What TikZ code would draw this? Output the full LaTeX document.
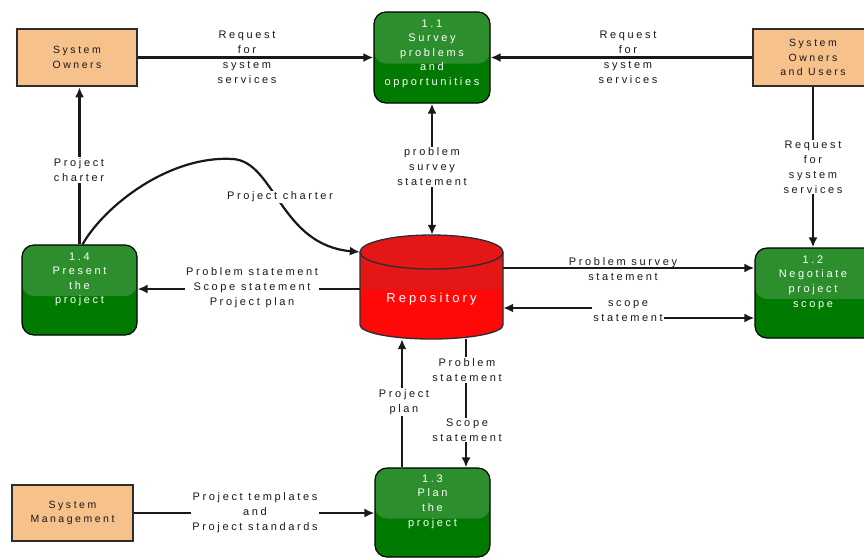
\documentclass[tikz,border=0pt]{standalone}
\usepackage{fontspec}
\setmainfont{Liberation Sans}[LetterSpace=24]
\usetikzlibrary{arrows.meta,calc}
\definecolor{entfill}{RGB}{247,193,140}
\definecolor{entdraw}{RGB}{45,45,45}
\definecolor{gdark}{RGB}{0,122,0}
\definecolor{glight}{RGB}{45,142,45}
\definecolor{repred}{RGB}{255,8,8}
\definecolor{reptop}{RGB}{228,22,22}
\definecolor{ink}{RGB}{25,25,25}
\tikzset{
  entity/.style={draw=entdraw, line width=2.6pt, fill=entfill, inner sep=0pt},
  proc/.style={draw=black, line width=1.2pt, rounded corners=12pt, fill=gdark,
    path picture={\fill[glight] (path picture bounding box.north west) rectangle ([yshift=-6pt]path picture bounding box.east);}},
  ptext/.style={text=white, align=center, font=\fontsize{11}{14.6}\selectfont, inner sep=1pt},
  etext/.style={text=ink, align=center, font=\fontsize{10.5}{14.5}\selectfont},
  lbl/.style={text=ink, align=center, font=\fontsize{11}{15}\selectfont, inner sep=1pt},
  wlbl/.style={lbl, fill=white},
  flow/.style={draw=ink, line width=2.2pt, -{Latex[length=10pt,width=9pt]}},
  flow2/.style={draw=ink, line width=2.2pt, {Latex[length=10pt,width=9pt]}-{Latex[length=10pt,width=9pt]}}
}
\begin{document}
\begin{tikzpicture}[x=1pt,y=-1pt]
\useasboundingbox (0,0) rectangle (864,558);
\fill[white] (0,0) rectangle (864,558);

% external entities
\node[entity, minimum width=120pt, minimum height=57pt] (so) at (77,57.5) {};
\node[etext] (soT) at (so) {System\\Owners};
\node[entity, minimum width=120pt, minimum height=57pt] (sou) at (813,57.5) {};
\node[etext] (souT) at (sou) {System\\Owners\\and Users};
\node[entity, minimum width=121pt, minimum height=56pt] (sm) at (72.5,513) {};
\node[etext] (smT) at (sm) {System\\Management};

% processes
\node[proc, minimum width=116pt, minimum height=91pt] (p11) at (432,57.5) {};
\node[ptext, anchor=north] (p11T) at ([yshift=-7pt]p11.north) {1.1\\Survey\\problems\\and\\opportunities};
\node[proc, minimum width=120pt, minimum height=90pt] (p12) at (815,293) {};
\node[ptext, anchor=north] (p12T) at ([yshift=-7pt,xshift=-2pt]p12.north) {1.2\\Negotiate\\project\\scope};
\node[proc, minimum width=115pt, minimum height=90pt] (p14) at (79.5,290) {};
\node[ptext, anchor=north] (p14T) at ([yshift=-7pt]p14.north) {1.4\\Present\\the\\project};
\node[proc, minimum width=115pt, minimum height=89pt] (p13) at (432.5,512.5) {};
\node[ptext, anchor=north] (p13T) at ([yshift=-6pt]p13.north) {1.3\\Plan\\the\\project};

% repository (cylinder)
\node[minimum width=143pt, minimum height=104pt, inner sep=0pt] (repo) at (431.5,287) {};
\fill[repred] (360,252) -- (360,325) arc[start angle=180, end angle=0, x radius=71.5, y radius=14] -- (503,252) -- cycle;
\fill[reptop] (360,252) -- (360,290) -- (503,290) -- (503,252) -- cycle;
\fill[reptop] (431.5,252) ellipse[x radius=71.5, y radius=17];
\draw[entdraw, line width=1.3pt] (360,252) -- (360,325) arc[start angle=180, end angle=0, x radius=71.5, y radius=14] -- (503,252);
\draw[entdraw, line width=1.3pt] (431.5,252) ellipse[x radius=71.5, y radius=17];
\node[text=white, font=\fontsize{13}{15}\selectfont] (repoT) at (431.5,299) {Repository};

% connectors
\draw[flow] (so) -- (p11);
\node[lbl] (l1) at (247,57) {Request\\for\\system\\services};
\draw[flow] (sou) -- (p11);
\node[lbl] (l2) at (628,57) {Request\\for\\system\\services};

\draw[flow] (sou.south) -- (sou.south |- p12.north);
\node[wlbl] (l3) at (813,167) {Request\\for\\system\\services};

\draw[flow2] (p11.south) -- (p11.south |- repo.north);
\node[wlbl] (l4) at (432,167) {problem\\survey\\statement};

\coordinate (r268) at ([yshift=19pt]repo.east);
\draw[flow] (r268) -- (r268 -| p12.west);
\node[lbl] (l8) at (623,269) {Problem survey\\statement};

\node[lbl] (l9) at (628,311.5) {scope\\statement};
\coordinate (r308) at ([yshift=-21pt]repo.east);
\coordinate (r318) at ([yshift=-31pt]repo.east);
\draw[flow] (r308 -| l9.west) -- (r308);
\draw[flow] (r318 -| l9.east) -- (r318 -| p12.west);

\draw[flow] ([yshift=-2pt]repo.west) -- ([yshift=-2pt]repo.west -| p14.east);
\node[wlbl] (l7) at (252,288) {Problem statement\\Scope statement\\Project plan};

\draw[flow] (p14.north) -- (p14.north |- so.south);
\node[wlbl] (l5) at (79,170) {Project\\charter};

\coordinate (rtl) at ([yshift=35pt]repo.west);
\draw[flow] ([xshift=3pt]p14.north) .. controls (105,205) and (170,155) .. (233,159)
  .. controls (275,162) and (280,245) .. (rtl);
\node[wlbl] (l6) at (280,197) {Project charter};

\draw[flow] ([xshift=34.5pt]repo.south) -- ([xshift=34.5pt]repo.south |- p13.north);
\node[wlbl] (l10) at (467,370) {Problem\\statement};
\node[wlbl] (l11) at (467,430) {Scope\\statement};

\draw[flow] ([xshift=-29.5pt]repo.south |- p13.north) -- ([xshift=-29.5pt]repo.south);
\node[wlbl] (l12) at (404,402) {Project\\plan};

\draw[flow] (sm) -- (sm -| p13.west);
\node[wlbl] (l13) at (255,513) {Project templates\\and\\Project standards};
\end{tikzpicture}
\end{document}
